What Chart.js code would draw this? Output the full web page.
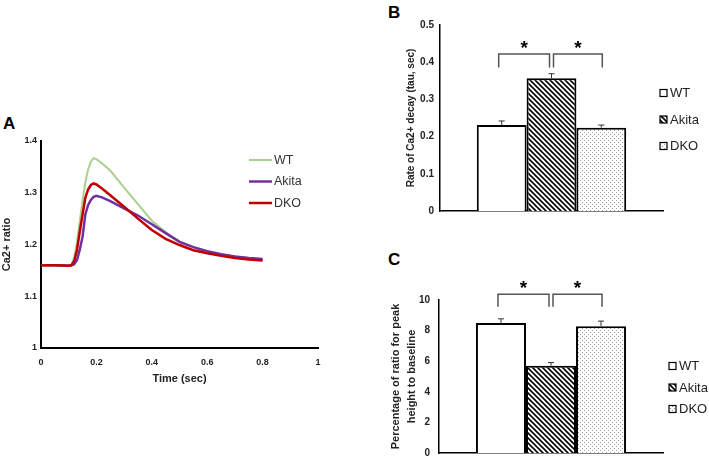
<!DOCTYPE html>
<html lang="en">
<head>
<meta charset="UTF-8">
<title>Ca2+ transients - WT / Akita / DKO</title>
<script src="https://cdn.jsdelivr.net/npm/chart.js"></script>
<style>
  body { margin: 0; background: #fff; }
  #wrap { position: relative; width: 709px; height: 468px; overflow: hidden; font-family: 'Liberation Sans', Arial, sans-serif; }
  canvas { position: absolute; }
  .tag { position: absolute; font-weight: bold; font-size: 17px; line-height: 17px; color: #000; }
</style>
</head>
<body>
<div id="wrap">
  <div class="tag" style="left:3px;top:115px">A</div>
  <div class="tag" style="left:388px;top:4px">B</div>
  <div class="tag" style="left:388px;top:251px">C</div>
  <canvas id="chartA" width="340" height="300" style="left:0;top:100px"></canvas>
  <canvas id="chartB" width="329" height="230" style="left:380px;top:0"></canvas>
  <canvas id="chartC" width="329" height="238" style="left:380px;top:230px"></canvas>
</div>
<script>
// --- data ---
const groups = ['WT', 'Akita', 'DKO'];

// panel A : Ca2+ ratio vs time
const timeSec  = [0, 0.05, 0.10, 0.11, 0.12, 0.13, 0.14, 0.15, 0.16, 0.17, 0.18, 0.19, 0.20, 0.22, 0.25, 0.30, 0.35, 0.40, 0.45, 0.50, 0.55, 0.60, 0.65, 0.70, 0.75, 0.80];
const wtRatio    = [1.16, 1.16, 1.16, 1.161, 1.175, 1.205, 1.245, 1.285, 1.32, 1.345, 1.36, 1.367, 1.365, 1.357, 1.343, 1.31, 1.278, 1.246, 1.224, 1.206, 1.195, 1.187, 1.181, 1.177, 1.174, 1.171];
const akitaRatio = [1.16, 1.16, 1.159, 1.16, 1.162, 1.17, 1.19, 1.215, 1.258, 1.276, 1.286, 1.292, 1.294, 1.291, 1.284, 1.27, 1.256, 1.239, 1.222, 1.205, 1.195, 1.187, 1.181, 1.177, 1.174, 1.172];
const dkoRatio   = [1.16, 1.16, 1.159, 1.16, 1.168, 1.19, 1.225, 1.258, 1.29, 1.306, 1.315, 1.318, 1.316, 1.308, 1.295, 1.273, 1.25, 1.228, 1.211, 1.199, 1.189, 1.183, 1.178, 1.174, 1.171, 1.169];

// panel B : decay tau
const tauMean = [0.231, 0.357, 0.224];
const tauErr  = [0.011, 0.012, 0.007];

// panel C : peak height vs baseline (%)
const peakMean = [8.5, 5.71, 8.29];
const peakErr  = [0.27, 0.2, 0.33];

Chart.defaults.font.family = "'Liberation Sans', Arial, sans-serif";
Chart.defaults.color = '#222';

// excel-style labels: 1.4 not 1.40, 1 not 1.0
const shortNum = v => String(Math.round(v * 10) / 10);

// fill patterns
function hatch() {
  const c = document.createElement('canvas');
  c.width = c.height = 5;
  const g = c.getContext('2d');
  g.fillStyle = '#fff'; g.fillRect(0, 0, 5, 5);
  g.strokeStyle = '#000'; g.lineWidth = 1.6;
  g.beginPath();
  g.moveTo(-1, -1); g.lineTo(6, 6);
  g.moveTo(-1, 4); g.lineTo(1, 6);
  g.moveTo(4, -1); g.lineTo(6, 1);
  g.stroke();
  return g.createPattern(c, 'repeat');
}
function dots() {
  const c = document.createElement('canvas');
  c.width = c.height = 4;
  const g = c.getContext('2d');
  g.fillStyle = '#fff'; g.fillRect(0, 0, 4, 4);
  g.fillStyle = '#9a9a9a';
  g.fillRect(0, 0, 1, 1); g.fillRect(2, 2, 1, 1);
  return g.createPattern(c, 'repeat');
}
const fills = ['#ffffff', hatch(), dots()];

// legend with short lines (panel A)
const lineLegend = {
  id: 'lineLegend',
  afterDraw(chart, args, o) {
    const ctx = chart.ctx;
    ctx.save();
    chart.data.datasets.forEach((ds, i) => {
      const y = o.y + i * o.gap;
      ctx.strokeStyle = ds.borderColor; ctx.lineWidth = ds.borderWidth;
      ctx.beginPath(); ctx.moveTo(o.x, y); ctx.lineTo(o.x + 23, y); ctx.stroke();
      ctx.fillStyle = '#333'; ctx.font = '12.5px ' + Chart.defaults.font.family;
      ctx.textBaseline = 'middle';
      ctx.fillText(ds.label, o.x + 25, y + 0.5);
    });
    ctx.restore();
  }
};

// legend with boxes (panels B, C)
const boxLegend = {
  id: 'boxLegend',
  afterDraw(chart, args, o) {
    const ctx = chart.ctx;
    ctx.save();
    chart.data.datasets.forEach((ds, i) => {
      const y = o.y + i * o.gap;
      ctx.fillStyle = ds.backgroundColor;
      ctx.fillRect(o.x, y - 3.5, 7, 7);
      ctx.strokeStyle = '#000'; ctx.lineWidth = 1.2;
      ctx.strokeRect(o.x, y - 3.5, 7, 7);
      ctx.fillStyle = '#222'; ctx.font = '13px ' + Chart.defaults.font.family;
      ctx.textBaseline = 'middle';
      ctx.fillText(ds.label, o.x + 10, y + 0.5);
    });
    ctx.restore();
  }
};

// error bars + significance brackets
const sigMarks = {
  id: 'sigMarks',
  afterDatasetsDraw(chart, args, o) {
    const ctx = chart.ctx, ys = chart.scales.y;
    const xs = chart.data.datasets.map((d, i) => chart.getDatasetMeta(i).data[0].x);
    ctx.save();
    ctx.strokeStyle = '#333'; ctx.lineWidth = 1;
    o.err.forEach((e, i) => {
      const v = chart.data.datasets[i].data[0];
      const y0 = ys.getPixelForValue(v), y1 = ys.getPixelForValue(v + e);
      ctx.beginPath();
      ctx.moveTo(xs[i], y0); ctx.lineTo(xs[i], y1);
      ctx.moveTo(xs[i] - 3, y1); ctx.lineTo(xs[i] + 3, y1);
      ctx.stroke();
    });
    const top = ys.getPixelForValue(o.top), leg = ys.getPixelForValue(o.leg);
    const spans = [[xs[0] - 3, xs[1] - 2], [xs[1] + 2, xs[2] + 1]];
    ctx.strokeStyle = '#555'; ctx.lineWidth = 1.5;
    ctx.font = 'bold 19px ' + Chart.defaults.font.family;
    ctx.textAlign = 'center'; ctx.fillStyle = '#000';
    spans.forEach(([a, b]) => {
      ctx.beginPath();
      ctx.moveTo(a, leg); ctx.lineTo(a, top); ctx.lineTo(b, top); ctx.lineTo(b, leg);
      ctx.stroke();
      ctx.fillText('*', (a + b) / 2, ys.getPixelForValue(o.star) + 10.5);
    });
    ctx.restore();
  }
};

// panel A
const lineSets = [
  { label: 'WT', vals: wtRatio, color: '#a9d18e', w: 2, order: 3 },
  { label: 'Akita', vals: akitaRatio, color: '#7030a0', w: 2.5, order: 2 },
  { label: 'DKO', vals: dkoRatio, color: '#c00000', w: 2.5, order: 1 }
];
new Chart(document.getElementById('chartA'), {
  type: 'line',
  data: {
    datasets: lineSets.map(s => ({
      label: s.label,
      data: timeSec.map((t, i) => ({ x: t, y: s.vals[i] })),
      borderColor: s.color,
      borderWidth: s.w,
      pointRadius: 0,
      tension: 0,
      order: s.order
    }))
  },
  options: {
    responsive: false,
    animation: false,
    layout: { padding: { top: 41, right: 22, left: 0, bottom: 0 } },
    plugins: {
      legend: { display: false },
      tooltip: { enabled: false },
      lineLegend: { x: 249, y: 60, gap: 21.5 }
    },
    scales: {
      x: {
        type: 'linear', min: 0, max: 1,
        ticks: { stepSize: 0.2, padding: 9, font: { size: 9, weight: 'bold' }, callback: shortNum },
        grid: { display: false, drawTicks: false },
        border: { color: '#000', width: 2 },
        title: { display: true, text: 'Time (sec)', font: { size: 11, weight: 'bold' }, padding: { top: 0, bottom: 14.4 } },
        afterFit: s => { s.height = 52; }
      },
      y: {
        min: 1, max: 1.4,
        ticks: { stepSize: 0.1, padding: 4, font: { size: 9, weight: 'bold' }, callback: shortNum },
        grid: { display: false, drawTicks: false },
        border: { color: '#000', width: 2 },
        title: { display: true, text: 'Ca2+ ratio', font: { size: 11, weight: 'bold' }, padding: { top: 0.5, bottom: 0 } },
        afterFit: s => { s.width = 41; }
      }
    }
  },
  plugins: [lineLegend]
});

// panels B and C
function barChart(id, means, errs, yCfg, extra) {
  return new Chart(document.getElementById(id), {
    type: 'bar',
    data: {
      labels: [''],
      datasets: groups.map((g, i) => ({
        label: g,
        data: [means[i]],
        backgroundColor: fills[i],
        borderColor: '#000',
        borderWidth: 2,
        barPercentage: 1,
        categoryPercentage: 0.67
      }))
    },
    options: {
      responsive: false,
      animation: false,
      layout: { padding: { top: extra.padTop, right: 46, left: 0, bottom: 0 } },
      plugins: {
        legend: { display: false },
        tooltip: { enabled: false },
        boxLegend: extra.legend,
        sigMarks: Object.assign({ err: errs }, extra.sig)
      },
      scales: {
        x: {
          ticks: { display: false },
          grid: { display: false, drawTicks: false },
          border: { color: '#000', width: 1.5 },
          afterFit: s => { s.height = extra.xH; }
        },
        y: Object.assign({
          grid: { display: false, drawTicks: false },
          border: { color: '#000', width: 1.5 },
          afterFit: s => { s.width = extra.yW; }
        }, yCfg)
      }
    },
    plugins: [sigMarks, boxLegend]
  });
}

barChart('chartB', tauMean, tauErr, {
  min: 0, max: 0.5,
  ticks: { stepSize: 0.1, padding: 6, font: { size: 10, weight: 'bold' }, callback: shortNum },
  title: { display: true, text: 'Rate of Ca2+ decay (tau, sec)', font: { size: 10, weight: 'bold' }, padding: { top: 25.7, bottom: 0 } }
}, {
  padTop: 25, xH: 19, yW: 60,
  legend: { x: 280, y: 93, gap: 26.5 },
  sig: { top: 0.422, leg: 0.386, star: 0.451 }
});

barChart('chartC', peakMean, peakErr, {
  min: 0, max: 10,
  ticks: { stepSize: 2, padding: 9, font: { size: 10, weight: 'bold' } },
  title: { display: true, text: ['Percentage of ratio for peak', 'height to baseline'], font: { size: 11, weight: 'bold', lineHeight: '16px' }, padding: { top: 7.7, bottom: 0 } }
}, {
  padTop: 70, xH: 6, yW: 59,
  legend: { x: 289, y: 136, gap: 21.5 },
  sig: { top: 10.37, leg: 9.56, star: 11.05 }
});
</script>
</body>
</html>
